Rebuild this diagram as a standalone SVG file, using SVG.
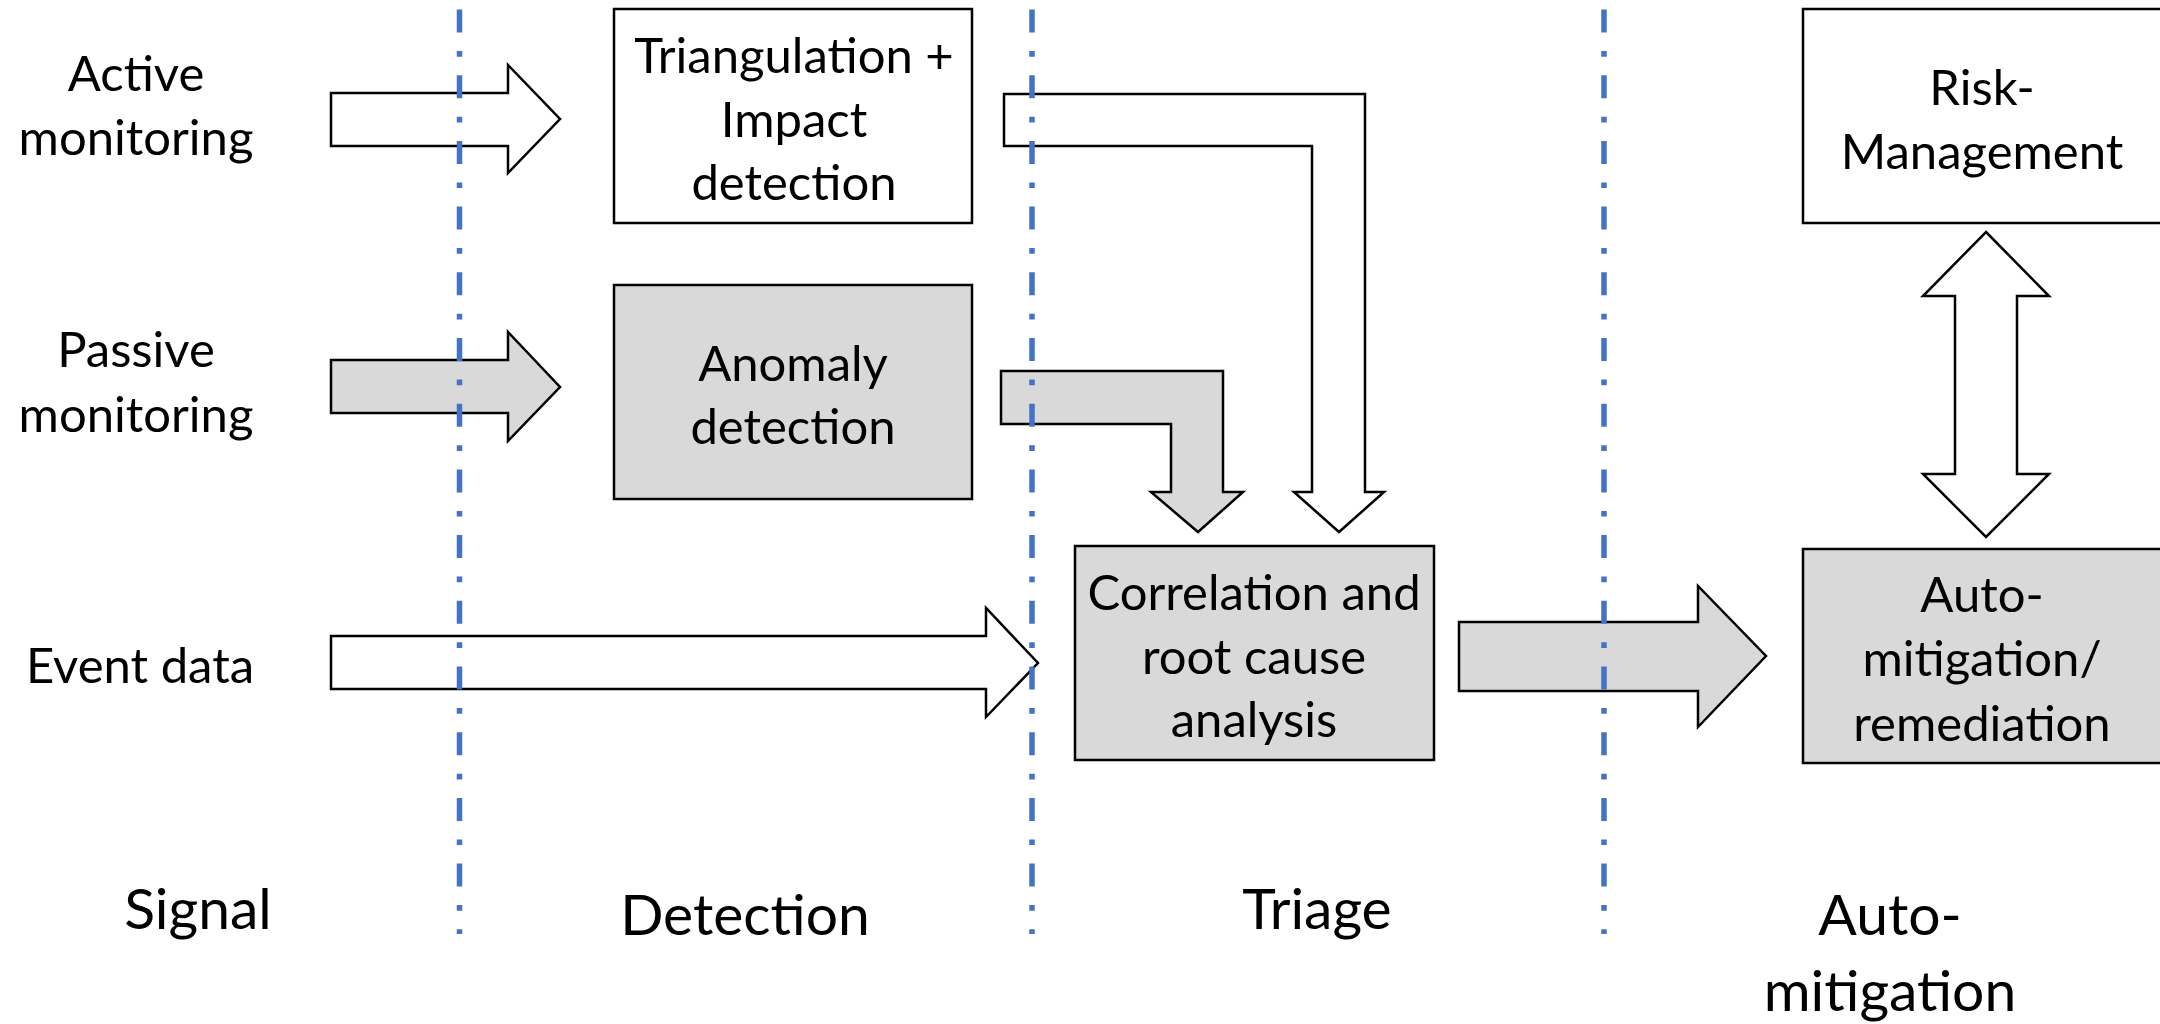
<svg xmlns="http://www.w3.org/2000/svg" width="2160" height="1024" viewBox="0 0 2160 1024">
<style>
  .t { font-family: Lato, "Liberation Sans", sans-serif; font-size: 49px; fill: #000; text-anchor: middle; }
  .big { font-size: 57px; }
  .box { stroke: #000; stroke-width: 2.5; }
  .white { fill: #FFFFFF; }
  .gray { fill: #D9D9D9; }
  .arr { stroke: #000; stroke-width: 2.5; stroke-linejoin: miter; }
  .sep { stroke: #4472C4; stroke-width: 5.5; stroke-dasharray: 23 18.5 5.7 18.5; fill: none; }
</style>
<rect width="2160" height="1024" fill="#FFFFFF"/>

<g id="label-active">
  <text class="t" x="136" y="91">Active</text>
  <text class="t" x="136" y="155">monitoring</text>
</g>
<g id="label-passive">
  <text class="t" x="136" y="367">Passive</text>
  <text class="t" x="136" y="432">monitoring</text>
</g>
<g id="label-event">
  <text class="t" x="140" y="683">Event data</text>
</g>

<g id="node-triangulation">
  <rect class="box white" x="614" y="9" width="358" height="214"/>
  <text class="t" x="794" y="73">Triangulation +</text>
  <text class="t" x="794" y="137">Impact</text>
  <text class="t" x="794" y="200">detection</text>
</g>
<g id="node-anomaly">
  <rect class="box gray" x="614" y="285" width="358" height="214"/>
  <text class="t" x="793" y="381">Anomaly</text>
  <text class="t" x="793" y="444">detection</text>
</g>
<g id="node-correlation">
  <rect class="box gray" x="1075" y="546" width="359" height="214"/>
  <text class="t" x="1254" y="610">Correlation and</text>
  <text class="t" x="1254" y="674">root cause</text>
  <text class="t" x="1254" y="737">analysis</text>
</g>
<g id="node-risk">
  <rect class="box white" x="1803" y="9" width="400" height="214"/>
  <text class="t" x="1982" y="105">Risk-</text>
  <text class="t" x="1982" y="169">Management</text>
</g>
<g id="node-automitigation">
  <rect class="box gray" x="1803" y="549" width="400" height="214"/>
  <text class="t" x="1982" y="612">Auto-</text>
  <text class="t" x="1982" y="676">mitigation/</text>
  <text class="t" x="1982" y="741">remediation</text>
</g>

<g id="connectors">
  <polygon class="arr white" points="331,93 508,93 508,65 560,119 508,173 508,146 331,146"/>
  <polygon class="arr gray" points="331,360 508,360 508,332 560,387 508,441 508,413 331,413"/>
  <polygon class="arr white" points="331,636 986,636 986,608 1038,663 986,717 986,689 331,689"/>
  <polygon class="arr white" points="1004,94 1365,94 1365,492 1384,492 1339,532 1294,492 1312,492 1312,146 1004,146"/>
  <polygon class="arr gray" points="1001,371 1223,371 1223,492 1243,492 1198,532 1151,492 1171,492 1171,424 1001,424"/>
  <polygon class="arr gray" points="1459,622 1698,622 1698,586 1766,656 1698,727 1698,691 1459,691"/>
  <polygon class="arr white" points="1986,232 2049,296 2017,296 2017,474 2049,474 1986,537 1923,474 1955,474 1955,296 1923,296"/>
</g>

<g id="separators">
  <line class="sep" x1="459.5" y1="9.5" x2="459.5" y2="934"/>
  <line class="sep" x1="1032" y1="9.5" x2="1032" y2="934"/>
  <line class="sep" x1="1604" y1="9.5" x2="1604" y2="934"/>
</g>

<g id="phase-labels">
  <text class="t big" x="198" y="929">Signal</text>
  <text class="t big" x="745" y="935">Detection</text>
  <text class="t big" x="1317" y="929">Triage</text>
  <text class="t big" x="1890" y="935">Auto-</text>
  <text class="t big" x="1890" y="1011">mitigation</text>
</g>
</svg>
